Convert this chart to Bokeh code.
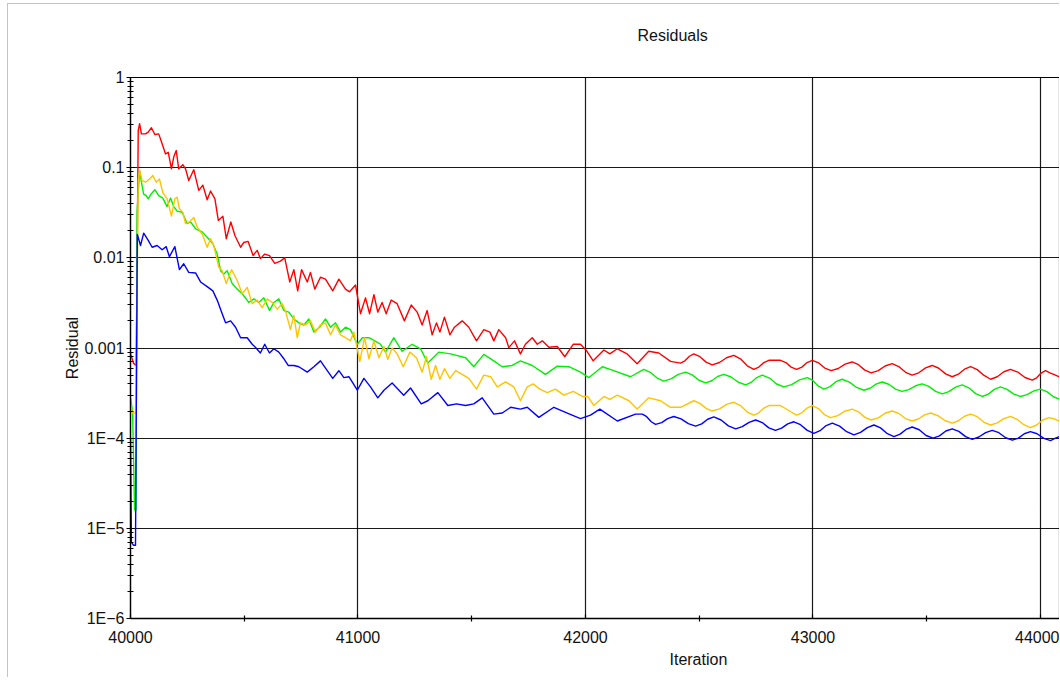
from bokeh.plotting import figure
from bokeh.models import FixedTicker, CustomJSTickFormatter, Range1d, Title
from bokeh.embed import file_html
from bokeh.resources import INLINE

# ---------------- data: (iteration, residual) ----------------
red_pts = [
    (40000, 0.00087), (40013, 0.00068), (40025, 0.00064), (40034, 0.258), (40040, 0.307), (40048, 0.237),
    (40066, 0.237), (40078, 0.248), (40092, 0.277), (40107, 0.233), (40124, 0.237), (40139, 0.184),
    (40154, 0.142), (40166, 0.148), (40180, 0.097), (40190, 0.131), (40201, 0.155), (40212, 0.097),
    (40230, 0.108), (40242, 0.097), (40256, 0.072), (40278, 0.095), (40300, 0.056), (40318, 0.064),
    (40337, 0.044), (40352, 0.055), (40371, 0.045), (40386, 0.026), (40406, 0.029), (40421, 0.0163),
    (40441, 0.025), (40459, 0.0177), (40484, 0.0131), (40498, 0.0148), (40517, 0.0152), (40539, 0.0106),
    (40557, 0.0121), (40571, 0.0098), (40590, 0.0110), (40611, 0.0106), (40634, 0.0087), (40659, 0.0092),
    (40678, 0.0100), (40700, 0.0054), (40718, 0.0074), (40735, 0.0043), (40752, 0.0074), (40777, 0.0054),
    (40791, 0.0069), (40810, 0.0045), (40835, 0.0061), (40857, 0.0058), (40889, 0.0043), (40916, 0.0058),
    (40945, 0.0045), (40963, 0.0042), (40989, 0.0050), (41011, 0.0024), (41033, 0.0036), (41051, 0.0024),
    (41070, 0.0039), (41087, 0.0025), (41106, 0.0032), (41124, 0.0024), (41146, 0.0034), (41172, 0.0031),
    (41204, 0.0020), (41234, 0.0030), (41260, 0.0025), (41282, 0.0018), (41304, 0.0026), (41326, 0.0014),
    (41345, 0.0019), (41360, 0.0015), (41380, 0.0022), (41404, 0.0014), (41424, 0.0017), (41458, 0.0020),
    (41487, 0.0017), (41521, 0.0012), (41553, 0.0016), (41580, 0.0015), (41597, 0.0012), (41619, 0.0016),
    (41649, 0.0013), (41663, 0.00101), (41688, 0.0012), (41714, 0.00086), (41736, 0.0011), (41766, 0.0013),
    (41788, 0.0011), (41810, 0.0012), (41839, 0.00102), (41876, 0.00104), (41909, 0.00080), (41946, 0.0011),
    (41978, 0.0011), (42005, 0.00093), (42034, 0.00072), (42081, 0.00095), (42107, 0.00086), (42140, 0.00098),
    (42183, 0.00086), (42227, 0.00067), (42278, 0.00092), (42322, 0.00088), (42374, 0.00071), (42418, 0.00068),
    (42437, 0.00072), (42457, 0.00081), (42476, 0.00086), (42503, 0.00080), (42530, 0.000697), (42557, 0.00065),
    (42589, 0.000691), (42620, 0.00078), (42652, 0.00083), (42681, 0.000759), (42711, 0.000635), (42740, 0.00058),
    (42762, 0.000614), (42784, 0.000689), (42806, 0.00073), (42857, 0.00073), (42881, 0.00069), (42904, 0.000614),
    (42928, 0.00058), (42951, 0.000614), (42974, 0.000689), (42997, 0.00073), (43025, 0.000683), (43052, 0.000599),
    (43080, 0.00056), (43111, 0.000592), (43141, 0.000662), (43172, 0.00070), (43200, 0.000653), (43228, 0.000568),
    (43256, 0.00053), (43287, 0.000562), (43317, 0.000632), (43348, 0.00067), (43377, 0.000623), (43407, 0.000538),
    (43436, 0.00050), (43465, 0.000531), (43495, 0.000601), (43524, 0.00064), (43553, 0.000596), (43583, 0.000516),
    (43612, 0.00048), (43639, 0.000512), (43666, 0.000582), (43693, 0.00062), (43722, 0.000576), (43752, 0.000496),
    (43781, 0.00045), (43810, 0.00048), (43839, 0.000545), (43868, 0.00058), (43900, 0.000541), (43932, 0.000471),
    (43964, 0.00044), (43983, 0.000467), (44003, 0.000527), (44022, 0.00056), (44044, 0.000527), (44066, 0.00050),
    (44088, 0.00047)]

green_pts = [
    (40000, 0.00028), (40009, 0.00020), (40018, 1.6e-5), (40024, 1.6e-5), (40029, 0.033), (40040, 0.093),
    (40048, 0.069), (40058, 0.051), (40069, 0.049), (40078, 0.045), (40088, 0.050), (40107, 0.057),
    (40124, 0.049), (40142, 0.046), (40161, 0.037), (40176, 0.046), (40190, 0.037), (40205, 0.033),
    (40227, 0.032), (40249, 0.024), (40264, 0.025), (40286, 0.021), (40315, 0.0194), (40337, 0.0169),
    (40362, 0.0143), (40381, 0.0110), (40396, 0.0072), (40410, 0.0066), (40425, 0.0072), (40447, 0.0052),
    (40469, 0.0045), (40491, 0.0040), (40520, 0.0032), (40542, 0.0035), (40564, 0.0032), (40586, 0.0036),
    (40611, 0.0026), (40630, 0.0032), (40652, 0.0035), (40674, 0.0026), (40696, 0.0025), (40718, 0.0021),
    (40740, 0.0019), (40762, 0.0018), (40784, 0.0021), (40806, 0.0015), (40831, 0.0017), (40857, 0.0021),
    (40879, 0.0017), (40901, 0.0019), (40923, 0.0015), (40945, 0.0017), (40967, 0.0016), (40997, 0.0011),
    (41019, 0.0013), (41048, 0.0013), (41074, 0.0012), (41099, 0.0011), (41121, 0.00090), (41157, 0.0013),
    (41194, 0.00092), (41238, 0.0011), (41275, 0.00098), (41307, 0.00068), (41355, 0.00090), (41407, 0.00086),
    (41473, 0.00078), (41509, 0.00062), (41553, 0.00085), (41597, 0.00072), (41634, 0.00062), (41678, 0.00064),
    (41714, 0.00072), (41766, 0.00064), (41824, 0.00051), (41876, 0.00063), (41927, 0.00062), (41978, 0.00054),
    (42015, 0.00047), (42074, 0.00062), (42124, 0.00056), (42198, 0.00048), (42256, 0.00058), (42285, 0.000538),
    (42315, 0.000464), (42344, 0.00043), (42376, 0.000455), (42408, 0.00051), (42440, 0.00054), (42469, 0.000504),
    (42499, 0.000439), (42528, 0.00041), (42555, 0.000433), (42581, 0.000483), (42608, 0.00051), (42640, 0.000477),
    (42672, 0.000417), (42704, 0.00039), (42728, 0.000415), (42753, 0.00047), (42777, 0.00050), (42809, 0.000464),
    (42840, 0.000399), (42872, 0.00037), (42906, 0.000393), (42941, 0.000443), (42975, 0.00047), (42999, 0.000437),
    (43024, 0.000377), (43048, 0.00035), (43075, 0.000373), (43101, 0.000423), (43128, 0.00045), (43160, 0.000419),
    (43192, 0.000365), (43224, 0.00034), (43251, 0.000358), (43277, 0.000398), (43304, 0.00042), (43333, 0.000396),
    (43363, 0.00035), (43392, 0.00033), (43421, 0.000346), (43451, 0.000381), (43480, 0.00040), (43509, 0.000375),
    (43539, 0.00033), (43568, 0.00031), (43597, 0.000328), (43627, 0.000368), (43656, 0.00039), (43685, 0.000362),
    (43715, 0.000312), (43744, 0.00029), (43771, 0.000308), (43797, 0.000348), (43824, 0.00037), (43853, 0.000348),
    (43883, 0.000308), (43912, 0.00029), (43941, 0.000304), (43971, 0.000334), (44000, 0.00035), (44028, 0.000328),
    (44057, 0.000288), (44085, 0.00027)]

yellow_pts = [
    (40000, 0.00024), (40009, 0.00019), (40024, 0.00019), (40034, 0.072), (40040, 0.093), (40051, 0.072),
    (40066, 0.069), (40084, 0.075), (40098, 0.082), (40113, 0.069), (40127, 0.075), (40142, 0.053),
    (40161, 0.045), (40180, 0.029), (40195, 0.045), (40205, 0.047), (40215, 0.035), (40230, 0.032),
    (40242, 0.024), (40259, 0.025), (40278, 0.028), (40293, 0.022), (40318, 0.0177), (40337, 0.0131),
    (40352, 0.0163), (40366, 0.0137), (40388, 0.0079), (40403, 0.0072), (40421, 0.0052), (40444, 0.0074),
    (40469, 0.0056), (40491, 0.0040), (40513, 0.0047), (40535, 0.0031), (40557, 0.0034), (40579, 0.0028),
    (40601, 0.0035), (40623, 0.0032), (40645, 0.0027), (40667, 0.0031), (40681, 0.0026), (40703, 0.0016),
    (40718, 0.0023), (40733, 0.0013), (40747, 0.0019), (40769, 0.0018), (40791, 0.0020), (40813, 0.0015),
    (40835, 0.0018), (40857, 0.0019), (40879, 0.0014), (40901, 0.0018), (40923, 0.0014), (40945, 0.0013),
    (40967, 0.0012), (40982, 0.0015), (41008, 0.00071), (41029, 0.0013), (41048, 0.00076), (41070, 0.0012),
    (41092, 0.00078), (41114, 0.00104), (41131, 0.00075), (41150, 0.0010), (41172, 0.00086), (41199, 0.00062),
    (41228, 0.00090), (41257, 0.00078), (41282, 0.00054), (41301, 0.00080), (41322, 0.00045), (41341, 0.00064),
    (41360, 0.00045), (41380, 0.00059), (41404, 0.00046), (41429, 0.00056), (41458, 0.00051), (41487, 0.00046),
    (41521, 0.00035), (41553, 0.00050), (41583, 0.00048), (41612, 0.00037), (41649, 0.00042), (41685, 0.00037),
    (41714, 0.00026), (41744, 0.00037), (41770, 0.00040), (41799, 0.00035), (41832, 0.00032), (41868, 0.00035),
    (41905, 0.00030), (41946, 0.00033), (41986, 0.00029), (42010, 0.00029), (42037, 0.00023), (42081, 0.00029),
    (42107, 0.00027), (42140, 0.00030), (42191, 0.00026), (42227, 0.00021), (42278, 0.00028), (42330, 0.00026),
    (42374, 0.00022), (42418, 0.00022), (42476, 0.00026), (42503, 0.000243), (42530, 0.000214), (42557, 0.00020),
    (42589, 0.000211), (42620, 0.000237), (42652, 0.00025), (42681, 0.00023), (42711, 0.000195), (42740, 0.00018),
    (42762, 0.000191), (42784, 0.000216), (42806, 0.00023), (42857, 0.00023), (42881, 0.000212), (42904, 0.000195),
    (42928, 0.00018), (42951, 0.000191), (42974, 0.000216), (42997, 0.00023), (43024, 0.000213), (43050, 0.000183),
    (43077, 0.000169), (43109, 0.000178), (43140, 0.000199), (43172, 0.00021), (43200, 0.000196), (43228, 0.00017),
    (43256, 0.000159), (43287, 0.000168), (43317, 0.000189), (43348, 0.00020), (43377, 0.000188), (43407, 0.000165),
    (43436, 0.000155), (43463, 0.000163), (43490, 0.000181), (43517, 0.00019), (43549, 0.000178), (43580, 0.000157),
    (43612, 0.000147), (43639, 0.000156), (43666, 0.000175), (43693, 0.000185), (43722, 0.000173), (43752, 0.00015),
    (43781, 0.00014), (43810, 0.000148), (43839, 0.000165), (43868, 0.000174), (43897, 0.000162), (43927, 0.000141),
    (43956, 0.000131), (43983, 0.00014), (44010, 0.000159), (44037, 0.000169), (44062, 0.000163), (44088, 0.000152)]

blue_pts = [
    (40000, 0.000100), (40004, 7e-6), (40013, 6.5e-6), (40022, 6.5e-6), (40030, 0.0182), (40044, 0.0137),
    (40058, 0.0188), (40078, 0.0156), (40095, 0.0131), (40117, 0.0137), (40139, 0.0123), (40157, 0.0133),
    (40171, 0.0103), (40195, 0.0133), (40215, 0.0074), (40234, 0.0086), (40256, 0.0069), (40286, 0.0068),
    (40308, 0.0054), (40337, 0.0048), (40362, 0.0043), (40381, 0.0034), (40403, 0.0024), (40418, 0.0019),
    (40440, 0.0020), (40462, 0.0017), (40484, 0.0013), (40513, 0.0013), (40535, 0.0011), (40549, 0.00102),
    (40571, 0.00088), (40590, 0.0011), (40611, 0.00088), (40630, 0.00098), (40652, 0.00090), (40674, 0.00076),
    (40693, 0.00064), (40718, 0.00064), (40740, 0.00062), (40777, 0.00054), (40806, 0.00062), (40835, 0.00072),
    (40865, 0.00056), (40889, 0.00046), (40916, 0.00056), (40938, 0.00047), (40960, 0.00048), (40997, 0.00034),
    (41026, 0.00046), (41055, 0.00037), (41087, 0.00028), (41114, 0.00034), (41150, 0.00041), (41201, 0.00030),
    (41231, 0.00036), (41278, 0.00024), (41307, 0.00026), (41351, 0.00032), (41395, 0.00023), (41433, 0.00024),
    (41473, 0.00023), (41509, 0.00024), (41546, 0.00028), (41597, 0.000185), (41634, 0.00019), (41671, 0.00022),
    (41714, 0.00021), (41744, 0.00022), (41795, 0.00017), (41861, 0.00022), (41920, 0.00019), (41978, 0.000165),
    (42022, 0.00018), (42063, 0.00021), (42140, 0.000155), (42220, 0.000185), (42250, 0.000185), (42269, 0.000173),
    (42289, 0.000152), (42308, 0.000142), (42335, 0.000149), (42361, 0.000165), (42388, 0.000174), (42420, 0.000164),
    (42452, 0.000145), (42484, 0.000136), (42511, 0.000144), (42537, 0.000162), (42564, 0.000172), (42596, 0.000159),
    (42628, 0.000137), (42660, 0.000127), (42689, 0.000134), (42719, 0.00015), (42748, 0.000159), (42777, 0.000149),
    (42806, 0.00013), (42835, 0.000122), (42862, 0.000129), (42889, 0.000144), (42916, 0.000152), (42945, 0.000141),
    (42975, 0.000122), (43004, 0.000113), (43031, 0.000121), (43058, 0.000138), (43085, 0.000147), (43117, 0.000136),
    (43148, 0.000118), (43180, 0.000109), (43209, 0.000116), (43239, 0.000131), (43268, 0.00014), (43297, 0.00013),
    (43327, 0.000112), (43356, 0.000104), (43383, 0.000111), (43409, 0.000125), (43436, 0.000133), (43467, 0.000124),
    (43497, 0.000107), (43528, 0.0001), (43556, 0.000106), (43584, 0.00012), (43612, 0.000127), (43641, 0.000119),
    (43671, 0.000104), (43700, 0.000097), (43729, 0.000103), (43759, 0.000115), (43788, 0.000122), (43817, 0.000115),
    (43847, 0.000101), (43876, 0.000095), (43903, 0.0001), (43929, 0.000112), (43956, 0.000118), (43985, 0.000112),
    (44015, 0.0000995), (44044, 0.000094), (44066, 0.0001), (44088, 0.000105)]

x_major = [40000, 41000, 42000, 43000, 44000]
x_minor = [40500, 41500, 42500, 43500]
y_major = [1e-6, 1e-5, 1e-4, 1e-3, 1e-2, 1e-1, 1.0]
title_text = "Residuals"
x_label = "Iteration"
y_label = "Residual"

# ---------------- figure ----------------
FONT = "Liberation Sans"
FS = "16px"
p = figure(width=1052, height=674, y_axis_type="log",
           x_range=Range1d(40000, 44088), y_range=Range1d(1e-6, 1.0),
           output_backend="svg", toolbar_location=None,
           min_border_left=122, min_border_right=0, min_border_top=73, min_border_bottom=60)
p.styles = {"margin-left": "7px", "margin-top": "3px",
            "border-left": "1px solid #c4c4c4", "border-top": "1px solid #c4c4c4"}
p.outline_line_color = "black"
p.outline_line_width = 1.2

p.title.text = title_text
p.title.align = "left"
p.title.offset = 507
p.title.standoff = 40
p.title.text_font = FONT
p.title.text_font_size = FS
p.title.text_font_style = "normal"
p.title.text_color = "#111111"

# empty spacer between the frame and the title
p.add_layout(Title(text=" ", text_font_size="2px", standoff=10), "above")

p.add_layout(Title(text=x_label, align="left", offset=539, standoff=6, text_font=FONT,
                   text_font_size=FS, text_font_style="normal", text_color="#111111"), "below")

y_minor = [k * t for t in y_major[:-1] for k in range(2, 10)]
p.yaxis.ticker = FixedTicker(ticks=y_major, minor_ticks=y_minor)
p.xaxis.ticker = FixedTicker(ticks=x_major, minor_ticks=x_minor)
p.yaxis.formatter = CustomJSTickFormatter(code="""
const m = {"0":"1","-1":"0.1","-2":"0.01","-3":"0.001","-4":"1E\u22124","-5":"1E\u22125","-6":"1E\u22126"};
return m[String(Math.round(Math.log10(tick)))];
""")

for ax in (p.xaxis[0], p.yaxis[0]):
    ax.axis_line_color = "black"
    ax.axis_line_width = 1.3
    ax.major_tick_line_color = "black"
    ax.minor_tick_line_color = "black"
    ax.major_tick_line_width = 1.2
    ax.minor_tick_line_width = 1.2
    ax.major_label_text_font = FONT
    ax.major_label_text_font_size = FS
    ax.major_label_text_color = "#111111"
    ax.axis_label_text_font = FONT
    ax.axis_label_text_font_size = FS
    ax.axis_label_text_font_style = "normal"
    ax.axis_label_text_color = "#111111"

p.yaxis.major_tick_in = 4
p.yaxis.major_tick_out = 4
p.yaxis.minor_tick_in = 3
p.yaxis.minor_tick_out = 3
p.yaxis.major_label_standoff = 2
p.yaxis.axis_label = y_label
p.yaxis.axis_label_standoff = 0

p.xaxis.major_tick_in = 4
p.xaxis.major_tick_out = 0
p.xaxis.minor_tick_in = 3
p.xaxis.minor_tick_out = 3
p.xaxis.major_label_standoff = 9

p.xgrid.ticker = FixedTicker(ticks=x_major)
p.ygrid.ticker = FixedTicker(ticks=y_major)
for g in (p.xgrid[0], p.ygrid[0]):
    g.grid_line_color = "black"
    g.grid_line_width = 1.2
    g.grid_line_alpha = 0.9

series = [(red_pts, "#ff0000"), (green_pts, "#00f000"), (yellow_pts, "#ffc400"), (blue_pts, "#0000ff")]
for pts, col in series:
    xs = [a for a, b in pts]
    ys = [b for a, b in pts]
    p.line(xs, ys, line_color=col, line_width=1.4, line_join="round")

open("out.html", "w").write(file_html(p, INLINE))
